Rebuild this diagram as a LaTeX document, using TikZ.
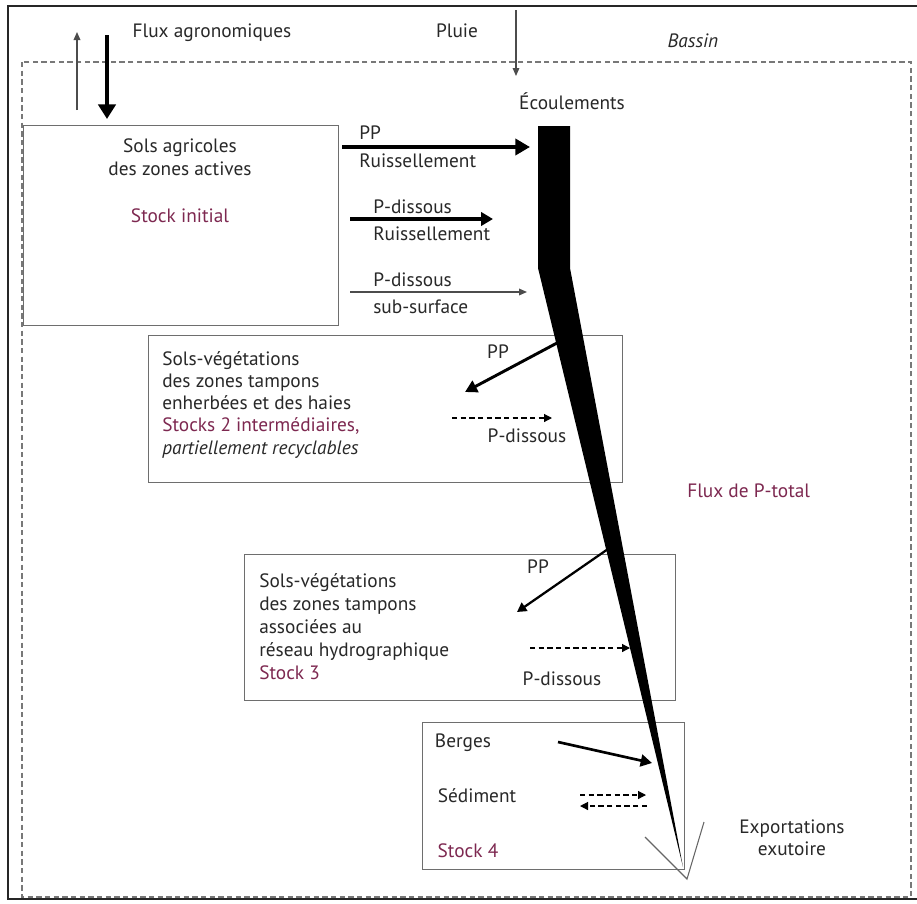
\documentclass[tikz,border=0pt]{standalone}
\usepackage{fontspec}
\setmainfont{PT Sans}
\usetikzlibrary{arrows.meta}
\definecolor{txt}{RGB}{40,40,40}
\definecolor{stockc}{RGB}{125,40,80}
\definecolor{boxc}{RGB}{110,110,110}
\definecolor{bassinc}{RGB}{120,120,120}
\begin{document}
\begin{tikzpicture}[x=0.75pt,y=-0.75pt,
  lbl/.style={font=\fontsize{14.5}{16.5}\selectfont, text=txt, inner sep=0pt, text height=10.5pt, text depth=3pt},
  stk/.style={lbl, text=stockc},
  stockbox/.style={draw=boxc, line width=0.9pt, inner sep=0pt, anchor=north west},
  thick1/.style={line width=3.4pt, -{Triangle[length=11pt,width=12pt]}},
  thick2/.style={line width=2.6pt, -{Triangle[length=9pt,width=10pt]}},
  thick3/.style={line width=2.2pt, -{Triangle[length=9pt,width=9.5pt]}},
  thick4/.style={line width=1.7pt, -{Triangle[length=7pt,width=7.5pt]}},
  thinarr/.style={line width=0.9pt, draw=black!70, -{Triangle[length=6pt,width=5pt]}},
  dasharr/.style={line width=0.9pt, dash pattern=on 4pt off 2.5pt, -{Triangle[length=6pt,width=6pt]}}
]
\useasboundingbox (0,0) rectangle (917,903);
% outer frame
\draw[line width=1.2pt, black!85] (918,6) -- (8,6) -- (8,899) -- (918,899);
% bassin
\draw[bassinc, line width=1.2pt, dash pattern=on 4pt off 2.5pt] (22,62) rectangle (911,897);
\node[lbl, font=\fontsize{14.5}{16.5}\itshape] (bassin) at (693,42) {Bassin};

% boxes
\node[stockbox, minimum width=236.25pt, minimum height=150pt] (box1) at (23,125) {};
\node[stockbox, minimum width=355.5pt, minimum height=110.25pt] (box2) at (148,335) {};
\node[stockbox, minimum width=323.25pt, minimum height=109.5pt] (box3) at (244,554) {};
\node[stockbox, minimum width=196.5pt, minimum height=110.25pt] (box4) at (422,722) {};

% flow band
\fill[black] (538,126) -- (570,126) -- (570,268) -- (683,867) -- (538,268) -- cycle;
\coordinate (tip) at (687,879);
\coordinate (vl) at (645,837);
\coordinate (vr) at (704,822);
\draw[black!60, line width=0.8pt] (vl) -- (tip) -- (vr);

% top labels and arrows
\node[lbl] (flux) at (212,32) {Flux agronomiques};
\coordinate (upS) at (77,110); \coordinate (upE) at (77,32);
\draw[thinarr] (upS) -- (upE);
\coordinate (dnS) at (107,35); \coordinate (dnE) at (107,119);
\draw[line width=3pt, -{Triangle[length=11pt,width=13pt]}] (dnS) -- (dnE);
\node[lbl] (pluie) at (457,32) {Pluie};
\coordinate (plS) at (516,10); \coordinate (plE) at (516,76);
\draw[thinarr, line width=0.8pt] (plS) -- (plE);
\node[lbl] (ecoul) at (572,104) {Écoulements};

% box 1 text
\node[lbl] (t1a) at (180,147) {Sols agricoles};
\node[lbl] (t1b) at (180,170) {des zones actives};
\node[stk] (t1c) at (180,217) {Stock initial};

% box1 -> band
\coordinate (a1S) at (342,147); \coordinate (a1E) at (530,147);
\draw[thick1] (a1S) -- (a1E);
\node[lbl, anchor=west] (pp1) at (359,134) {PP};
\node[lbl, anchor=west] (r1) at (359,162) {Ruissellement};
\coordinate (a2S) at (350,219); \coordinate (a2E) at (493,219);
\draw[thick2] (a2S) -- (a2E);
\node[lbl, anchor=west] (pd1) at (373,208) {P-dissous};
\node[lbl, anchor=west] (r2) at (373,235) {Ruissellement};
\coordinate (a3S) at (350,292); \coordinate (a3E) at (527,292);
\draw[thinarr] (a3S) -- (a3E);
\node[lbl, anchor=west] (pd2) at (373,281) {P-dissous};
\node[lbl, anchor=west] (ss) at (373,308) {sub-surface};

% box 2
\node[lbl, anchor=west] (t2a) at (162,360) {Sols-végétations};
\node[lbl, anchor=west] (t2b) at (162,382) {des zones tampons};
\node[lbl, anchor=west] (t2c) at (162,404) {enherbées et des haies};
\node[stk, anchor=west] (t2d) at (162,426) {Stocks 2 intermédiaires,};
\node[lbl, anchor=west, font=\fontsize{14.5}{16.5}\itshape] (t2e) at (162,449) {partiellement recyclables};
\coordinate (b2S) at (557,343); \coordinate (b2E) at (465,392);
\draw[thick3] (b2S) -- (b2E);
\node[lbl] (pp2) at (498,353) {PP};
\coordinate (d2S) at (452,418); \coordinate (d2E) at (552,418);
\draw[dasharr] (d2S) -- (d2E);
\node[lbl] (pd3) at (527,437) {P-dissous};

\node[stk, anchor=west] (fpt) at (687,492) {Flux de P-total};

% box 3
\node[lbl, anchor=west] (t3a) at (259,582) {Sols-végétations};
\node[lbl, anchor=west] (t3b) at (259,605) {des zones tampons};
\node[lbl, anchor=west] (t3c) at (259,628) {associées au};
\node[lbl, anchor=west] (t3d) at (259,651) {réseau hydrographique};
\node[stk, anchor=west] (t3e) at (259,674) {Stock 3};
\coordinate (b3S) at (608,549); \coordinate (b3E) at (517,612);
\draw[thick4] (b3S) -- (b3E);
\node[lbl] (pp3) at (538,568) {PP};
\coordinate (d3S) at (530,648); \coordinate (d3E) at (630,648);
\draw[dasharr] (d3S) -- (d3E);
\node[lbl] (pd4) at (562,680) {P-dissous};

% box 4
\node[lbl] (berges) at (463,742) {Berges};
\coordinate (bgS) at (558,742); \coordinate (bgE) at (652,763);
\draw[line width=2pt, -{Triangle[length=8.5pt,width=9pt]}] (bgS) -- (bgE);
\node[lbl] (sed) at (477,797) {Sédiment};
\coordinate (s1S) at (580,795); \coordinate (s1E) at (646,795);
\coordinate (s2S) at (647,806); \coordinate (s2E) at (580,806);
\draw[dasharr] (s1S) -- (s1E);
\draw[dasharr] (s2S) -- (s2E);
\node[stk] (st4) at (468,852) {Stock 4};

\node[lbl] (exp1) at (792,828) {Exportations};
\node[lbl] (exp2) at (792,850) {exutoire};
\end{tikzpicture}
\end{document}
